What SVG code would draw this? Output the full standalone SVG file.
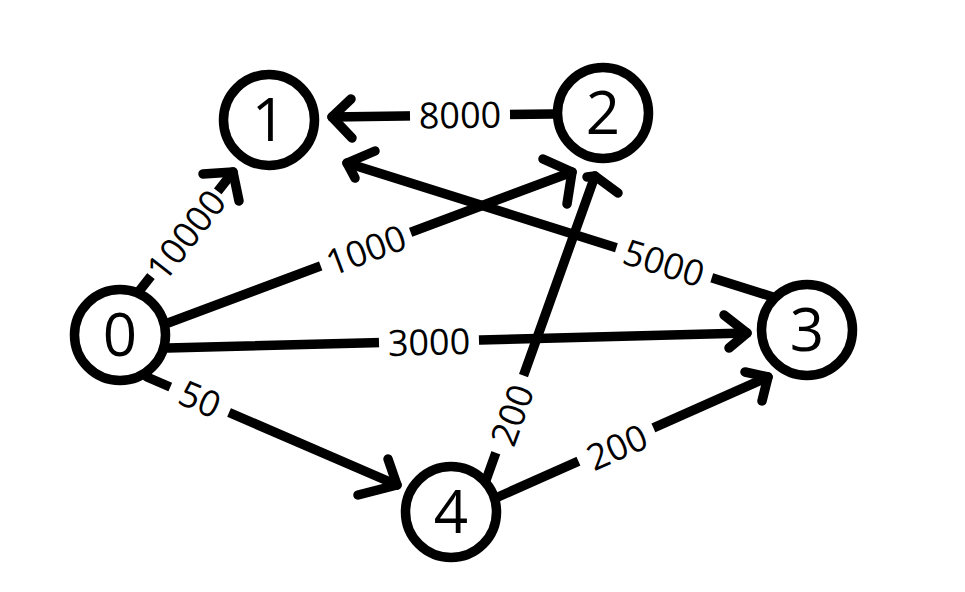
<svg xmlns="http://www.w3.org/2000/svg" width="965" height="592" viewBox="0 0 965 592">
<style>
  .edge line, .edge polyline { stroke: #000; stroke-width: 9.5; fill: none; stroke-linecap: round; stroke-linejoin: round; }
  .lbl-bg { fill: #fff; }
  .lbl { font-family: "Open Sans", "Noto Sans", "DejaVu Sans", sans-serif; font-size: 36px; fill: #000; text-anchor: middle; }
  .node circle { fill: #fff; stroke: #000; stroke-width: 9.5; }
  .node text { font-family: "Open Sans", "Noto Sans", "DejaVu Sans", sans-serif; font-size: 60px; fill: #000; text-anchor: middle; }
</style>
<rect width="965" height="592" fill="#fff"/>
<g id="connectors">
  <g class="edge" id="e0-1">
    <line x1="140" y1="290" x2="233" y2="172"/>
    <polyline points="203,174 233,172 239,201"/>
    <g transform="translate(186,235) rotate(-51.8)">
      <rect class="lbl-bg" x="-54" y="-16" width="108" height="32"/>
      <text class="lbl" y="13">10000</text>
    </g>
  </g>
  <g class="edge" id="e2-1">
    <line x1="553" y1="114" x2="332" y2="117"/>
    <polyline points="351,99 332,117 352,138"/>
    <g transform="translate(460,115) rotate(-0.8)">
      <rect class="lbl-bg" x="-50" y="-16" width="100" height="32"/>
      <text class="lbl" y="13">8000</text>
    </g>
  </g>
  <g class="edge" id="e0-2">
    <line x1="168" y1="323" x2="572" y2="172"/>
    <polyline points="543,159 572,172 567,204"/>
    <g transform="translate(366,250) rotate(-20.4)">
      <rect class="lbl-bg" x="-48" y="-16" width="96" height="32"/>
      <text class="lbl" y="13">1000</text>
    </g>
  </g>
  <g class="edge" id="e3-1">
    <line x1="773" y1="297" x2="347" y2="163"/>
    <polyline points="375,151 347,163 355,178"/>
    <g transform="translate(664,263) rotate(17.5)">
      <rect class="lbl-bg" x="-50" y="-16" width="100" height="32"/>
      <text class="lbl" y="13">5000</text>
    </g>
  </g>
  <g class="edge" id="e0-3">
    <line x1="168" y1="348" x2="747" y2="333"/>
    <polyline points="724,315 747,333 729,348"/>
    <g transform="translate(429,342) rotate(-1.5)">
      <rect class="lbl-bg" x="-50" y="-16" width="100" height="32"/>
      <text class="lbl" y="13">3000</text>
    </g>
  </g>
  <g class="edge" id="e0-4">
    <line x1="147" y1="377" x2="397" y2="485"/>
    <polyline points="388,459 397,485 358,495"/>
    <g transform="translate(200,399) rotate(23.4)">
      <rect class="lbl-bg" x="-32" y="-16" width="64" height="32"/>
      <text class="lbl" y="13">50</text>
    </g>
  </g>
  <g class="edge" id="e4-2">
    <line x1="485" y1="483" x2="595" y2="176"/>
    <polyline points="587,177 595,176 618,193"/>
    <g transform="translate(512,415) rotate(-70)">
      <rect class="lbl-bg" x="-41" y="-16" width="82" height="32"/>
      <text class="lbl" y="13">200</text>
    </g>
  </g>
  <g class="edge" id="e4-3">
    <line x1="498" y1="497" x2="768" y2="377"/>
    <polyline points="745,372 768,377 762,401"/>
    <g transform="translate(617,447) rotate(-23.9)">
      <rect class="lbl-bg" x="-41" y="-16" width="82" height="32"/>
      <text class="lbl" y="13">200</text>
    </g>
  </g>
</g>
<g id="node0" class="node"><circle cx="120" cy="335" r="45.5"/><text x="120" y="356">0</text></g>
<g id="node1" class="node"><circle cx="269" cy="120" r="45.5"/><text x="269" y="141">1</text></g>
<g id="node2" class="node"><circle cx="603" cy="113" r="45.5"/><text x="603" y="134">2</text></g>
<g id="node3" class="node"><circle cx="807" cy="330" r="45.5"/><text x="807" y="351">3</text></g>
<g id="node4" class="node"><circle cx="451" cy="512" r="45.5"/><text x="451" y="533">4</text></g>
</svg>
